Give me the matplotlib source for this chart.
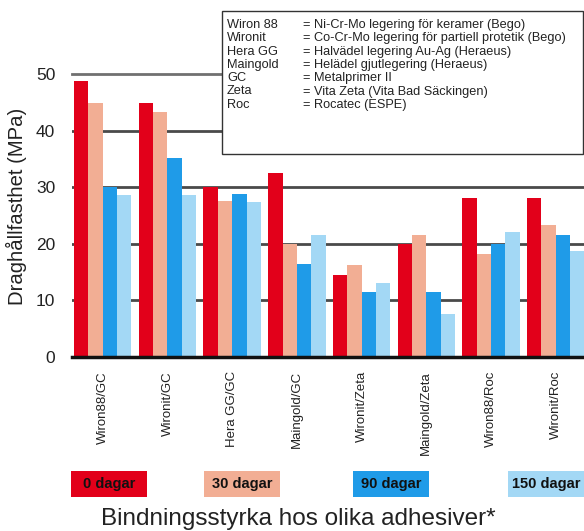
import matplotlib
matplotlib.use("Agg")
import matplotlib.pyplot as plt
from matplotlib.patches import Rectangle
import numpy as np

plt.rcParams["font.family"] = ["Liberation Sans", "DejaVu Sans"]
NARROW = ["Liberation Sans Narrow", "Liberation Sans", "DejaVu Sans"]

# data
combos = ["Wiron88/GC", "Wironit/GC", "Hera GG/GC", "Maingold/GC",
          "Wironit/Zeta", "Maingold/Zeta", "Wiron88/Roc", "Wironit/Roc"]
periods = ["0 dagar", "30 dagar", "90 dagar", "150 dagar"]
d0 = [48.7, 44.8, 30.0, 32.5, 14.5, 20.0, 28.1, 28.1]
d30 = [44.8, 43.2, 27.6, 20.0, 16.3, 21.6, 18.2, 23.3]
d90 = [30.0, 35.1, 28.8, 16.4, 11.5, 11.5, 20.0, 21.6]
d150 = [28.6, 28.6, 27.4, 21.6, 13.1, 7.6, 22.1, 18.8]
series = [d0, d30, d90, d150]
colors = ["#E2001A", "#F2AE94", "#1F9BE8", "#A3D8F5"]

legend_rows = [
    ("Wiron 88", "= Ni-Cr-Mo legering för keramer (Bego)"),
    ("Wironit", "= Co-Cr-Mo legering för partiell protetik (Bego)"),
    ("Hera GG", "= Halvädel legering Au-Ag (Heraeus)"),
    ("Maingold", "= Helädel gjutlegering (Heraeus)"),
    ("GC", "= Metalprimer II"),
    ("Zeta", "= Vita Zeta (Vita Bad Säckingen)"),
    ("Roc", "= Rocatec (ESPE)"),
]

W, H = 584, 531
fig = plt.figure(figsize=(W / 100, H / 100), dpi=100)
ax = fig.add_axes([72 / W, (H - 357) / H, (W - 72) / W, (357 - 74) / H])

x = np.arange(len(combos))
bw = 0.222
for j, (vals, c) in enumerate(zip(series, colors)):
    ax.bar(x + bw * j, vals, width=bw, align="edge", color=c, zorder=2)

ax.set_xlim(-0.031, 7.88)
ax.set_ylim(0, 50)
ax.set_yticks([0, 10, 20, 30, 40, 50])
ax.tick_params(axis="y", length=0, pad=12, labelsize=12.5, labelcolor="#222")
ax.tick_params(axis="x", length=0, pad=10)
ax.set_xticks(x + 2 * bw)
ax.set_xticklabels(combos, rotation=90, va="top", ha="center",
                   fontsize=9.5, family=NARROW, color="#222")
for yv in [10, 20, 30, 40]:
    ax.axhline(yv, color="#4a4a4a", lw=2, zorder=1)
ax.axhline(50, color="#707070", lw=2, zorder=1, clip_on=False)
for s in ["top", "right", "left"]:
    ax.spines[s].set_visible(False)
ax.spines["bottom"].set_linewidth(2.5)
ax.spines["bottom"].set_color("#111")
ax.spines["bottom"].set_zorder(3)

fig.text(16 / W, (H - 206) / H, "Draghållfasthet (MPa)", fontsize=14.6,
         rotation=90, ha="center", va="center", color="#222")

# legend box with abbreviations
fig.add_artist(Rectangle((222 / W, (H - 154) / H), (583 - 222) / W, 143 / H,
                         transform=fig.transFigure, facecolor="white",
                         edgecolor="#333", lw=1, zorder=5))
for i, (k, v) in enumerate(legend_rows):
    yy = (H - (25 + 13.3 * i)) / H
    fig.text(227 / W, yy, k, fontsize=9.2, family=NARROW, va="center",
             color="#222", zorder=6)
    fig.text(303 / W, yy, v, fontsize=9.2, family=NARROW, va="center",
             color="#222", zorder=6)

# period legend boxes
box_x = [71, 204, 353, 508]
for bx, lab, c in zip(box_x, periods, colors):
    fig.add_artist(Rectangle((bx / W, (H - 497) / H), 76 / W, 26 / H,
                             transform=fig.transFigure, facecolor=c,
                             edgecolor="none", zorder=5))
    fig.text((bx + 38) / W, (H - 484) / H, lab, fontsize=10.5, family=NARROW,
             fontweight="bold", ha="center", va="center", color="#111",
             zorder=6)

fig.text(298 / W, (H - 519) / H, "Bindningsstyrka hos olika adhesiver*",
         fontsize=17.5, ha="center", va="center", color="#222")

fig.savefig("out.png", dpi=100, facecolor="white")
